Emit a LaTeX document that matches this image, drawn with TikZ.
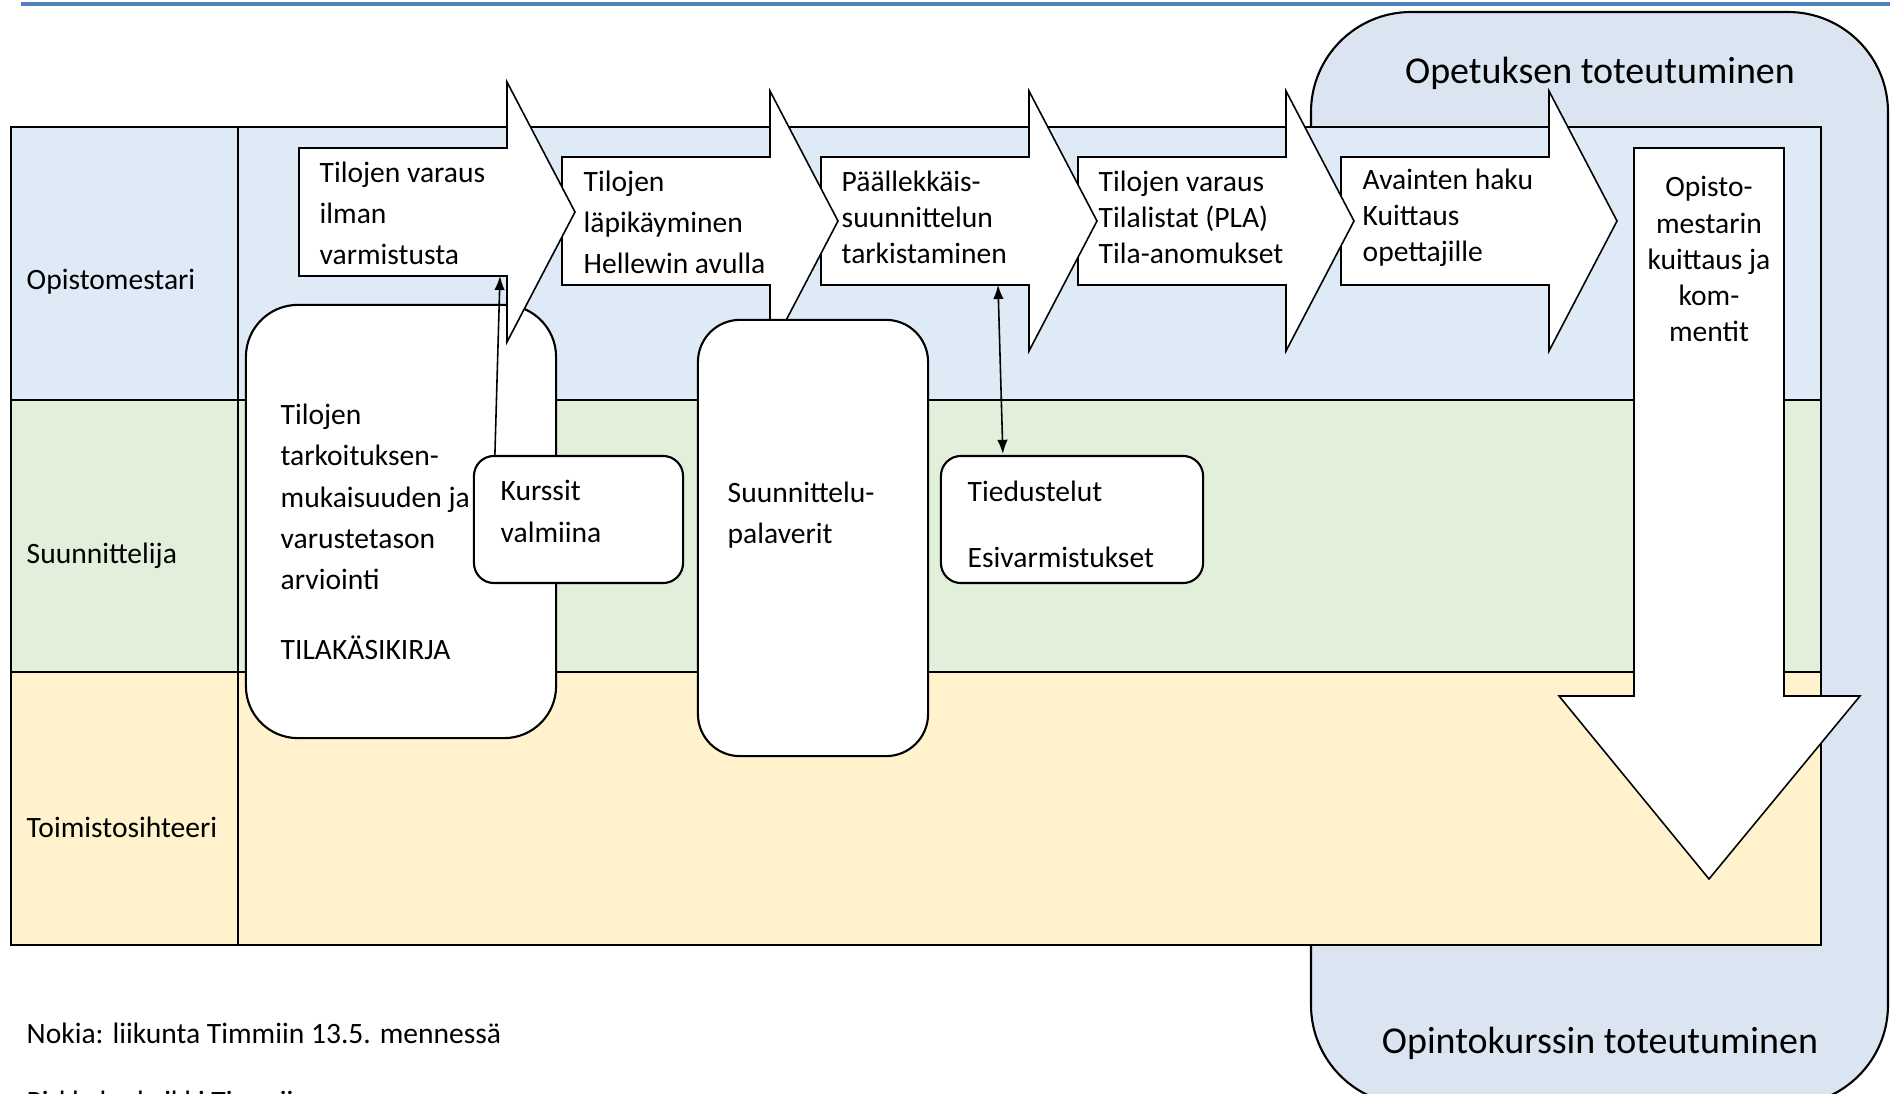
\documentclass[tikz,border=0pt]{standalone}
\usepackage{fontspec}
\setmainfont{Carlito}
\usetikzlibrary{positioning}
\usetikzlibrary{calc}
\usetikzlibrary{arrows.meta}

\definecolor{LaneBlue}{HTML}{DEEAF6}
\definecolor{LaneGreen}{HTML}{E2EFDA}
\definecolor{LaneYellow}{HTML}{FFF2CC}
\definecolor{PanelBlue}{HTML}{DBE5F1}
\definecolor{RuleBlue}{HTML}{4F81BD}

\begin{document}
\begin{tikzpicture}[x=0.01cm, y=-0.01cm]

\useasboundingbox (0,0) rectangle (1890,1094);
\clip (0,0) rectangle (1890,1094);

\def\BodyLength{208}
\def\BodyHalf{64}
\def\HeadHalf{130}
\def\HeadLength{68}

% Styles
\tikzstyle{lane} =
	[draw, line width=0.6pt]

\tikzstyle{lanetext} =
	[font=\fontsize{8.4}{11.7}\selectfont, inner sep=0pt, anchor=west]

\tikzstyle{flow} =
	[draw, fill=white, line width=0.45pt, line join=miter]

\tikzstyle{flowtext} =
	[font=\fontsize{8.4}{11.7}\selectfont, inner sep=0pt, align=left, anchor=west]

\tikzstyle{flowtext tight} =
	[flowtext, font=\fontsize{8.4}{10.25}\selectfont]

\tikzstyle{roundbox} =
	[draw, fill=white, line width=0.6pt]

\tikzstyle{panel text} =
	[font=\fontsize{10.8}{13}\selectfont, inner sep=0pt]

\tikzstyle{link} =
	[line width=0.45pt]

% Rule and panel
\draw[RuleBlue, line width=0.9pt] (21,4) -- (1890,4);

\draw[fill=PanelBlue, line width=0.6pt, rounded corners=1cm]
	(1311,12) rectangle (1888,1105);
\node (Opetus) [panel text] at (1600,73) {Opetuksen toteutuminen};
\node (Opintokurssi) [panel text] at (1600,1043) {Opintokurssin toteutuminen};

% Lanes
\draw[lane, fill=LaneBlue] (11,127) rectangle (1821,400);
\draw[lane, fill=LaneGreen] (11,400) rectangle (1821,672);
\draw[lane, fill=LaneYellow] (11,672) rectangle (1821,945);
\draw[lane] (238,127) -- (238,945);

\node (Opistomestari) [lanetext] at (26,282) {Opistomestari};
\node (Suunnittelija) [lanetext] at (26,556) {Suunnittelija};
\node (Toimistosihteeri) [lanetext] at (26,827) {Toimistosihteeri};

% Modules
\node (Arviointi) at (401,521.5)
	[roundbox, rounded corners=0.52cm, minimum width=3.10cm, minimum height=4.33cm] {};
\node (ArviointiText) [flowtext] at (280,532)
	{Tilojen\\tarkoituksen-\\mukaisuuden ja\\varustetason\\arviointi\\[0.29cm]TILAK\"ASIKIRJA};

\foreach \x/\y/\i in {1341/221/5, 1078/221/4, 821/221/3, 562/221/2, 299/212/1}
{
	\draw[flow] (\x,{\y-\BodyHalf}) -- ({\x+\BodyLength},{\y-\BodyHalf})
		-- ({\x+\BodyLength},{\y-\HeadHalf}) -- ({\x+\BodyLength+\HeadLength},\y)
		-- ({\x+\BodyLength},{\y+\HeadHalf}) -- ({\x+\BodyLength},{\y+\BodyHalf})
		-- (\x,{\y+\BodyHalf}) -- cycle;
	\coordinate (Flow\i) at (\x,\y);
}

\node (Varaus) [flowtext] at ($(Flow1)+(20,1)$) {Tilojen varaus\\ilman\\varmistusta};
\node (Lapikaynti) [flowtext] at ($(Flow2)+(21,1)$) {Tilojen\\l\"apik\"ayminen\\Hellewin avulla};
\node (Tarkistus) [flowtext tight] at ($(Flow3)+(20,-4)$) {P\"a\"allekk\"ais-\\suunnittelun\\tarkistaminen};
\node (Tilalistat) [flowtext tight] at ($(Flow4)+(20,-4)$) {Tilojen varaus\\Tilalistat (PLA)\\Tila-anomukset};
\node (Avaimet) [flowtext tight] at ($(Flow5)+(21,-3)$) {Avainten haku\\Kuittaus\\opettajille};

\node (Kurssit) at (578.5,519.5)
	[roundbox, rounded corners=0.2cm, minimum width=2.09cm, minimum height=1.27cm] {};
\node (KurssitText) [flowtext] at (500,511.5) {Kurssit\\valmiina};

\node (Palaverit) at (813,538)
	[roundbox, rounded corners=0.42cm, minimum width=2.30cm, minimum height=4.36cm] {};
\node (PalaveritText) [flowtext] at (727,515) {Suunnittelu-\\palaverit};

\node (Tiedustelut) at (1072,519.5)
	[roundbox, rounded corners=0.2cm, minimum width=2.62cm, minimum height=1.27cm] {};
\node (TiedustelutText) [flowtext] at (967,524) {Tiedustelut\\[0.25cm]Esivarmistukset};

\draw[flow] (1634,148) -- (1784,148) -- (1784,696) -- (1860,696)
	-- (1709,879) -- (1559,696) -- (1634,696) -- cycle;
\node (Kuittaus) [flowtext tight, align=center, anchor=center] at (1709,259)
	{Opisto-\\mestarin\\kuittaus ja\\kom-\\mentit};

% Edges
\draw[link, -{Latex[length=4pt,width=3pt]}]
	($(Kurssit.north west)+(22,0)$) -- ($(Flow1)+(201,64)$);
\draw[link, {Latex[length=4pt,width=3pt]}-{Latex[length=4pt,width=3pt]}]
	($(Flow3)+(177,64)$) -- ($(Tiedustelut.north west)+(63,-1)$);

% Notes
\node (Nokia) [lanetext] at (26,1033) {Nokia: liikunta Timmiin 13.5. menness\"a};
\node (Pirkkala) [lanetext] at (26,1101) {Pirkkala: kaikki Timmiin};

\end{tikzpicture}
\end{document}
